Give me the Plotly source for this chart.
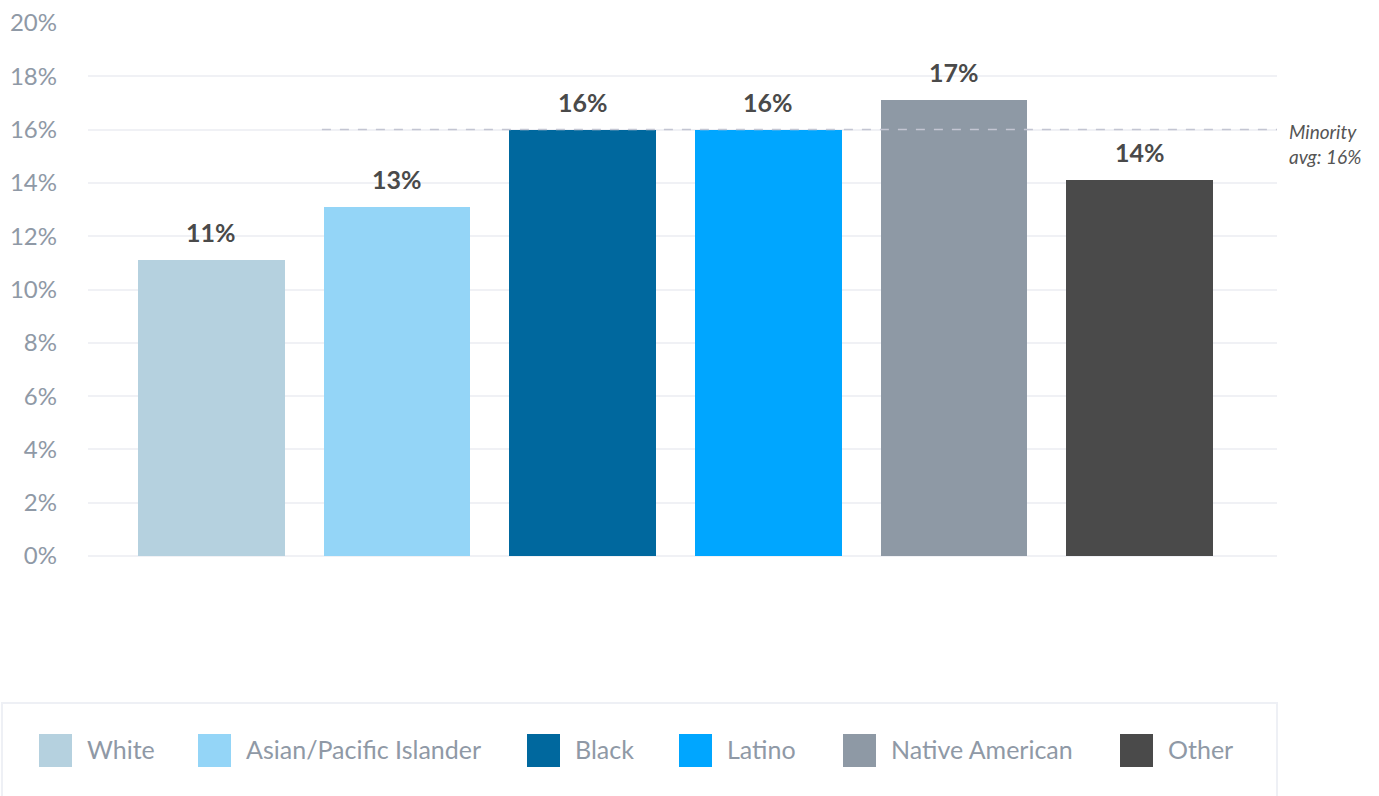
import plotly.graph_objects as go

# Data
groups = ["White", "Asian/Pacific Islander", "Black", "Latino", "Native American", "Other"]
rates = [11.1, 13.1, 16.0, 16.0, 17.1, 14.1]
minority_avg = 16.0
y_ticks = [0, 2, 4, 6, 8, 10, 12, 14, 16, 18, 20]
y_tick_text = [f"{t}%" for t in y_ticks]

# Styles
colors = ["#b5d1df", "#94d5f7", "#00689e", "#00a6ff", "#8e99a5", "#4a4a4a"]
FONT = "Lato, 'Open Sans', sans-serif"
AXIS_GREY = "#8f99a6"
LABEL_DARK = "#4a4a4a"
GRID = "#f0f1f5"

W, H = 1379, 796
M_L, M_R, M_T, M_B = 88, 102, 23, 240
PLOT_W = W - M_L - M_R
PLOT_H = H - M_T - M_B


def px_x(px):
    return (px - M_L) / PLOT_W


def px_y(py):
    return (H - M_B - py) / PLOT_H


fig = go.Figure()
fig.add_trace(go.Bar(
    x=list(range(len(groups))),
    y=rates,
    marker=dict(color=colors, line=dict(width=0)),
    width=0.79,
    showlegend=False,
    hoverinfo="skip",
))

# Value labels above each bar
for i, v in enumerate(rates):
    fig.add_annotation(
        x=i, y=v, xref="x", yref="y",
        text=f"{v:.0f}%", showarrow=False,
        yanchor="bottom", yshift=11,
        font=dict(family=FONT, size=25, color=LABEL_DARK, weight="bold"),
    )

# Minority average reference line
fig.add_shape(
    type="line", xref="x", yref="y",
    x0=0.595, x1=5.74, y0=minority_avg, y1=minority_avg,
    line=dict(color="#c3c5d2", width=1.5, dash="dash"),
    layer="above",
)
fig.add_annotation(
    xref="paper", yref="y",
    x=px_x(1287), y=minority_avg,
    text=f"<i>Minority<br>avg: {minority_avg:.0f}%</i>",
    showarrow=False, xanchor="left", yanchor="middle", align="left",
    yshift=-14,
    font=dict(family=FONT, size=19, color="#555555"),
)

# Legend panel drawn below the plot
fig.add_shape(
    type="rect", xref="paper", yref="paper",
    x0=px_x(2), x1=px_x(1277), y0=px_y(703), y1=px_y(810),
    line=dict(color="#eef0f5", width=2), fillcolor="rgba(0,0,0,0)",
    layer="below",
)
legend_sq_x = [39, 198, 527, 679, 843, 1120]
for name, col, sx in zip(groups, colors, legend_sq_x):
    fig.add_shape(
        type="rect", xref="paper", yref="paper",
        x0=px_x(sx), x1=px_x(sx + 33), y0=px_y(767), y1=px_y(734),
        line=dict(width=0), fillcolor=col,
    )
    fig.add_annotation(
        xref="paper", yref="paper",
        x=px_x(sx + 46), y=px_y(749),
        text=name, showarrow=False, xanchor="left", yanchor="middle",
        font=dict(family=FONT, size=25, color=AXIS_GREY),
    )

fig.update_layout(
    width=W, height=H,
    margin=dict(l=M_L, r=M_R, t=M_T, b=M_B, autoexpand=False),
    paper_bgcolor="white", plot_bgcolor="white",
    bargap=0,
    font=dict(family=FONT),
    xaxis=dict(
        range=[-0.665, 5.74], showgrid=False, zeroline=False,
        showticklabels=False, showline=False, fixedrange=True,
        automargin=False,
    ),
    yaxis=dict(
        range=[0, 20], tickmode="array", tickvals=y_ticks, ticktext=y_tick_text,
        showgrid=True, gridcolor=GRID, gridwidth=2,
        zeroline=True, zerolinecolor=GRID, zerolinewidth=2,
        showline=False, ticks="", ticklabelstandoff=30,
        tickfont=dict(family=FONT, size=24, color=AXIS_GREY),
        fixedrange=True, automargin=False,
    ),
)

fig.write_html("out.html")
